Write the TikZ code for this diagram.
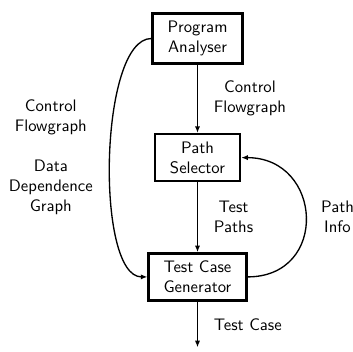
\documentclass[tikz,border=0pt]{standalone}
\usetikzlibrary{positioning, arrows.meta}
\begin{document}
\begin{tikzpicture}[
        x=0.6pt, y=-0.6pt, font=\sffamily,
        block/.style = {draw, black, line width=1.4pt, align=center, inner xsep=9pt, inner ysep=4.5pt},
        arrow/.style = {-{Latex[length=1.4mm, width=1.1mm]}, line width=1.1pt, align=center},
        curved/.style = {-{Latex[length=1.4mm, width=1.1mm]}, line width=0.8pt, align=center}
    ]
        \useasboundingbox (0,0) rectangle (353,352);
        \node[block] (analyser) at (197.5,38.5) {Program \\ Analyser};
        \node[block, below=41pt of analyser] (selector) {Path \\ Selector};
        \node[block, below=42pt of selector] (generator) {Test Case \\ Generator};
        \coordinate[below=27.5pt of generator] (output);

        \draw[arrow] (analyser) -- (selector) node[midway, right=6pt] {Control \\ Flowgraph};
        \draw[arrow] (selector) -- (generator) node[midway, right=6pt] {Test \\ Paths};
        \draw[arrow] (generator) -- (output) node[midway, right=6pt] {Test Case};
        \draw[curved] (analyser.west) to[out=180, in=180, looseness=0.56] node[midway, left=6.7pt] {Control \\ Flowgraph \\ \\ Data \\ Dependence \\ Graph} (generator.west);
        \draw[curved] (generator.east) to[out=0, in=0, looseness=1.75] node[midway, right=5.5pt] {Path \\ Info} (selector.east);
    \end{tikzpicture}
\end{document}
